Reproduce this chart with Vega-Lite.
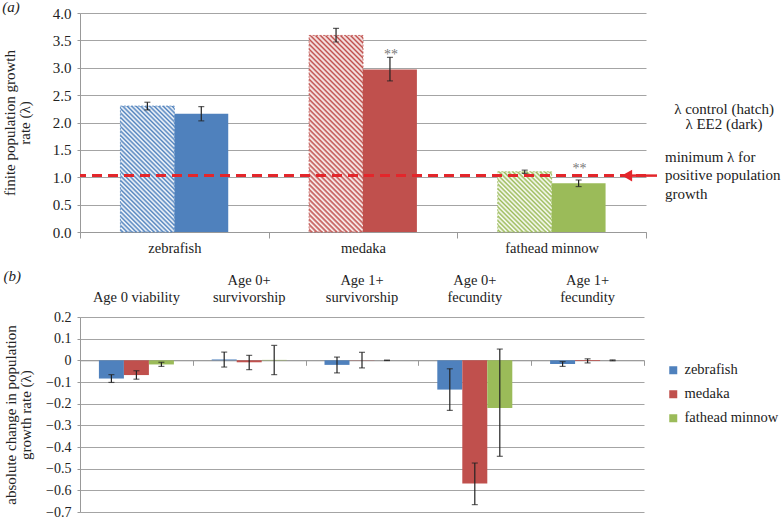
{
  "$schema": "https://vega.github.io/schema/vega-lite/v6.json",
  "background": "white",
  "padding": {"left": 2, "top": 0, "right": 0, "bottom": 0},
  "config": {
    "font": "Liberation Serif",
    "text": {"font": "Liberation Serif"},
    "view": {"stroke": null},
    "style": {"guide-label": {"font": "Liberation Serif"}, "guide-title": {"font": "Liberation Serif", "fontSize": 15}},
    "axis": {"labelFont": "Liberation Serif", "titleFont": "Liberation Serif", "labelFontSize": 15, "titleFontSize": 15, "labelColor": "#222", "titleColor": "#222", "titleFontWeight": "normal", "domainColor": "#999", "tickColor": "#999", "gridColor": "#a4a4a4", "titleLineHeight": 15},
    "title": {"font": "Liberation Serif", "fontSize": 15, "fontStyle": "italic", "fontWeight": "normal", "anchor": "start", "frame": "bounds", "color": "#222"},
    "legend": {"labelFont": "Liberation Serif", "labelFontSize": 14.5, "labelColor": "#222"}
  },
  "datasets": {
    "lambda": [
      {"species": "zebrafish", "treatment": "control", "lambda": 2.30, "lo": 2.23, "hi": 2.37, "sig": ""},
      {"species": "zebrafish", "treatment": "EE2", "lambda": 2.16, "lo": 2.03, "hi": 2.29, "sig": ""},
      {"species": "medaka", "treatment": "control", "lambda": 3.59, "lo": 3.47, "hi": 3.72, "sig": ""},
      {"species": "medaka", "treatment": "EE2", "lambda": 2.97, "lo": 2.76, "hi": 3.19, "sig": "**"},
      {"species": "fathead minnow", "treatment": "control", "lambda": 1.10, "lo": 1.07, "hi": 1.13, "sig": ""},
      {"species": "fathead minnow", "treatment": "EE2", "lambda": 0.89, "lo": 0.83, "hi": 0.95, "sig": "**"}
    ],
    "change": [
      {"measure": "Age 0 viability", "species": "zebrafish", "value": -0.084, "lo": -0.102, "hi": -0.066},
      {"measure": "Age 0 viability", "species": "medaka", "value": -0.068, "lo": -0.087, "hi": -0.048},
      {"measure": "Age 0 viability", "species": "fathead minnow", "value": -0.019, "lo": -0.028, "hi": -0.009},
      {"measure": "Age 0+ survivorship", "species": "zebrafish", "value": 0.004, "lo": -0.031, "hi": 0.038},
      {"measure": "Age 0+ survivorship", "species": "medaka", "value": -0.009, "lo": -0.043, "hi": 0.023},
      {"measure": "Age 0+ survivorship", "species": "fathead minnow", "value": 0.002, "lo": -0.066, "hi": 0.069},
      {"measure": "Age 1+ survivorship", "species": "zebrafish", "value": -0.021, "lo": -0.058, "hi": 0.015},
      {"measure": "Age 1+ survivorship", "species": "medaka", "value": 0.001, "lo": -0.035, "hi": 0.037},
      {"measure": "Age 1+ survivorship", "species": "fathead minnow", "value": 0.0, "lo": -0.001, "hi": 0.001},
      {"measure": "Age 0+ fecundity", "species": "zebrafish", "value": -0.135, "lo": -0.231, "hi": -0.039},
      {"measure": "Age 0+ fecundity", "species": "medaka", "value": -0.569, "lo": -0.666, "hi": -0.474},
      {"measure": "Age 0+ fecundity", "species": "fathead minnow", "value": -0.22, "lo": -0.443, "hi": 0.052},
      {"measure": "Age 1+ fecundity", "species": "zebrafish", "value": -0.017, "lo": -0.028, "hi": -0.006},
      {"measure": "Age 1+ fecundity", "species": "medaka", "value": -0.003, "lo": -0.012, "hi": 0.007},
      {"measure": "Age 1+ fecundity", "species": "fathead minnow", "value": 0.0, "lo": -0.002, "hi": 0.002}
    ]
  },
  "spacing": 14,
  "resolve": {"scale": {"color": "shared", "xOffset": "independent"}, "legend": {"color": "independent"}},
  "vconcat": [
    {
      "title": {"text": "(a)", "offset": -9},
      "width": 566,
      "height": 219,
      "resolve": {"axis": {"x": "independent", "y": "independent"}},
      "layer": [
        {
          "data": {"name": "lambda"},
          "transform": [{"filter": "datum.treatment == 'EE2'"}],
          "mark": {"type": "bar"},
          "encoding": {
            "x": {"field": "species", "type": "nominal", "sort": ["zebrafish", "medaka", "fathead minnow"], "scale": {"paddingInner": 0, "paddingOuter": 0}, "axis": {"title": null, "labelAngle": 0, "tickBand": "extent", "tickSize": 6, "labelPadding": 3, "labelFont": "Liberation Serif", "labelFontSize": 14.5, "grid": false}},
            "xOffset": {"field": "treatment", "type": "nominal", "sort": ["control", "EE2"], "scale": {"domain": ["control", "EE2"], "paddingInner": 0, "paddingOuter": 0.75}},
            "y": {"field": "lambda", "type": "quantitative", "scale": {"domain": [0, 4], "nice": false}, "axis": {"title": ["finite population growth", "rate (λ)"], "titleFont": "Liberation Serif", "titleFontSize": 15, "titleFontWeight": "normal", "titleLineHeight": 15, "values": [0, 0.5, 1, 1.5, 2, 2.5, 3, 3.5, 4], "format": ".1f", "tickSize": 3, "labelPadding": 6, "titlePadding": 20, "grid": true}},
            "color": {"field": "species", "type": "nominal", "scale": {"domain": ["zebrafish", "medaka", "fathead minnow"], "range": ["#4f81bd", "#c0504d", "#9bbb59"]}, "legend": null}
          }
        },
        {
          "data": {"name": "lambda"},
          "transform": [{"filter": "datum.treatment == 'control' && datum.species == 'zebrafish'"}],
          "mark": {"type": "bar", "stroke": "#4f81bd", "strokeWidth": 0.8, "strokeDash": [2, 1.5], "fill": {"gradient": "linear", "x1": 0, "y1": 1, "x2": 0.5167, "y2": -0.207, "stops": [
            {"offset": 0, "color": "#ffffff"}, {"offset": 0.0125, "color": "#4f81bd"}, {"offset": 0.025, "color": "#ffffff"}, {"offset": 0.0375, "color": "#4f81bd"},
            {"offset": 0.05, "color": "#ffffff"}, {"offset": 0.0625, "color": "#4f81bd"}, {"offset": 0.075, "color": "#ffffff"}, {"offset": 0.0875, "color": "#4f81bd"},
            {"offset": 0.1, "color": "#ffffff"}, {"offset": 0.1125, "color": "#4f81bd"}, {"offset": 0.125, "color": "#ffffff"}, {"offset": 0.1375, "color": "#4f81bd"},
            {"offset": 0.15, "color": "#ffffff"}, {"offset": 0.1625, "color": "#4f81bd"}, {"offset": 0.175, "color": "#ffffff"}, {"offset": 0.1875, "color": "#4f81bd"},
            {"offset": 0.2, "color": "#ffffff"}, {"offset": 0.2125, "color": "#4f81bd"}, {"offset": 0.225, "color": "#ffffff"}, {"offset": 0.2375, "color": "#4f81bd"},
            {"offset": 0.25, "color": "#ffffff"}, {"offset": 0.2625, "color": "#4f81bd"}, {"offset": 0.275, "color": "#ffffff"}, {"offset": 0.2875, "color": "#4f81bd"},
            {"offset": 0.3, "color": "#ffffff"}, {"offset": 0.3125, "color": "#4f81bd"}, {"offset": 0.325, "color": "#ffffff"}, {"offset": 0.3375, "color": "#4f81bd"},
            {"offset": 0.35, "color": "#ffffff"}, {"offset": 0.3625, "color": "#4f81bd"}, {"offset": 0.375, "color": "#ffffff"}, {"offset": 0.3875, "color": "#4f81bd"},
            {"offset": 0.4, "color": "#ffffff"}, {"offset": 0.4125, "color": "#4f81bd"}, {"offset": 0.425, "color": "#ffffff"}, {"offset": 0.4375, "color": "#4f81bd"},
            {"offset": 0.45, "color": "#ffffff"}, {"offset": 0.4625, "color": "#4f81bd"}, {"offset": 0.475, "color": "#ffffff"}, {"offset": 0.4875, "color": "#4f81bd"},
            {"offset": 0.5, "color": "#ffffff"}, {"offset": 0.5125, "color": "#4f81bd"}, {"offset": 0.525, "color": "#ffffff"}, {"offset": 0.5375, "color": "#4f81bd"},
            {"offset": 0.55, "color": "#ffffff"}, {"offset": 0.5625, "color": "#4f81bd"}, {"offset": 0.575, "color": "#ffffff"}, {"offset": 0.5875, "color": "#4f81bd"},
            {"offset": 0.6, "color": "#ffffff"}, {"offset": 0.6125, "color": "#4f81bd"}, {"offset": 0.625, "color": "#ffffff"}, {"offset": 0.6375, "color": "#4f81bd"},
            {"offset": 0.65, "color": "#ffffff"}, {"offset": 0.6625, "color": "#4f81bd"}, {"offset": 0.675, "color": "#ffffff"}, {"offset": 0.6875, "color": "#4f81bd"},
            {"offset": 0.7, "color": "#ffffff"}, {"offset": 0.7125, "color": "#4f81bd"}, {"offset": 0.725, "color": "#ffffff"}, {"offset": 0.7375, "color": "#4f81bd"},
            {"offset": 0.75, "color": "#ffffff"}, {"offset": 0.7625, "color": "#4f81bd"}, {"offset": 0.775, "color": "#ffffff"}, {"offset": 0.7875, "color": "#4f81bd"},
            {"offset": 0.8, "color": "#ffffff"}, {"offset": 0.8125, "color": "#4f81bd"}, {"offset": 0.825, "color": "#ffffff"}, {"offset": 0.8375, "color": "#4f81bd"},
            {"offset": 0.85, "color": "#ffffff"}, {"offset": 0.8625, "color": "#4f81bd"}, {"offset": 0.875, "color": "#ffffff"}, {"offset": 0.8875, "color": "#4f81bd"},
            {"offset": 0.9, "color": "#ffffff"}, {"offset": 0.9125, "color": "#4f81bd"}, {"offset": 0.925, "color": "#ffffff"}, {"offset": 0.9375, "color": "#4f81bd"},
            {"offset": 0.95, "color": "#ffffff"}, {"offset": 0.9625, "color": "#4f81bd"}, {"offset": 0.975, "color": "#ffffff"}, {"offset": 0.9875, "color": "#4f81bd"},
            {"offset": 1, "color": "#ffffff"}
          ]}},
          "encoding": {
            "x": {"field": "species", "type": "nominal", "sort": ["zebrafish", "medaka", "fathead minnow"], "axis": null},
            "xOffset": {"field": "treatment", "type": "nominal", "sort": ["control", "EE2"]},
            "y": {"field": "lambda", "type": "quantitative", "axis": null}
          }
        },
        {
          "data": {"name": "lambda"},
          "transform": [{"filter": "datum.treatment == 'control' && datum.species == 'medaka'"}],
          "mark": {"type": "bar", "stroke": "#c0504d", "strokeWidth": 0.8, "strokeDash": [2, 1.5], "fill": {"gradient": "linear", "x1": 0, "y1": 1, "x2": 0.3249, "y2": -0.1851, "stops": [
            {"offset": 0, "color": "#ffffff"}, {"offset": 0.01, "color": "#c0504d"}, {"offset": 0.02, "color": "#ffffff"}, {"offset": 0.03, "color": "#c0504d"},
            {"offset": 0.04, "color": "#ffffff"}, {"offset": 0.05, "color": "#c0504d"}, {"offset": 0.06, "color": "#ffffff"}, {"offset": 0.07, "color": "#c0504d"},
            {"offset": 0.08, "color": "#ffffff"}, {"offset": 0.09, "color": "#c0504d"}, {"offset": 0.1, "color": "#ffffff"}, {"offset": 0.11, "color": "#c0504d"},
            {"offset": 0.12, "color": "#ffffff"}, {"offset": 0.13, "color": "#c0504d"}, {"offset": 0.14, "color": "#ffffff"}, {"offset": 0.15, "color": "#c0504d"},
            {"offset": 0.16, "color": "#ffffff"}, {"offset": 0.17, "color": "#c0504d"}, {"offset": 0.18, "color": "#ffffff"}, {"offset": 0.19, "color": "#c0504d"},
            {"offset": 0.2, "color": "#ffffff"}, {"offset": 0.21, "color": "#c0504d"}, {"offset": 0.22, "color": "#ffffff"}, {"offset": 0.23, "color": "#c0504d"},
            {"offset": 0.24, "color": "#ffffff"}, {"offset": 0.25, "color": "#c0504d"}, {"offset": 0.26, "color": "#ffffff"}, {"offset": 0.27, "color": "#c0504d"},
            {"offset": 0.28, "color": "#ffffff"}, {"offset": 0.29, "color": "#c0504d"}, {"offset": 0.3, "color": "#ffffff"}, {"offset": 0.31, "color": "#c0504d"},
            {"offset": 0.32, "color": "#ffffff"}, {"offset": 0.33, "color": "#c0504d"}, {"offset": 0.34, "color": "#ffffff"}, {"offset": 0.35, "color": "#c0504d"},
            {"offset": 0.36, "color": "#ffffff"}, {"offset": 0.37, "color": "#c0504d"}, {"offset": 0.38, "color": "#ffffff"}, {"offset": 0.39, "color": "#c0504d"},
            {"offset": 0.4, "color": "#ffffff"}, {"offset": 0.41, "color": "#c0504d"}, {"offset": 0.42, "color": "#ffffff"}, {"offset": 0.43, "color": "#c0504d"},
            {"offset": 0.44, "color": "#ffffff"}, {"offset": 0.45, "color": "#c0504d"}, {"offset": 0.46, "color": "#ffffff"}, {"offset": 0.47, "color": "#c0504d"},
            {"offset": 0.48, "color": "#ffffff"}, {"offset": 0.49, "color": "#c0504d"}, {"offset": 0.5, "color": "#ffffff"}, {"offset": 0.51, "color": "#c0504d"},
            {"offset": 0.52, "color": "#ffffff"}, {"offset": 0.53, "color": "#c0504d"}, {"offset": 0.54, "color": "#ffffff"}, {"offset": 0.55, "color": "#c0504d"},
            {"offset": 0.56, "color": "#ffffff"}, {"offset": 0.57, "color": "#c0504d"}, {"offset": 0.58, "color": "#ffffff"}, {"offset": 0.59, "color": "#c0504d"},
            {"offset": 0.6, "color": "#ffffff"}, {"offset": 0.61, "color": "#c0504d"}, {"offset": 0.62, "color": "#ffffff"}, {"offset": 0.63, "color": "#c0504d"},
            {"offset": 0.64, "color": "#ffffff"}, {"offset": 0.65, "color": "#c0504d"}, {"offset": 0.66, "color": "#ffffff"}, {"offset": 0.67, "color": "#c0504d"},
            {"offset": 0.68, "color": "#ffffff"}, {"offset": 0.69, "color": "#c0504d"}, {"offset": 0.7, "color": "#ffffff"}, {"offset": 0.71, "color": "#c0504d"},
            {"offset": 0.72, "color": "#ffffff"}, {"offset": 0.73, "color": "#c0504d"}, {"offset": 0.74, "color": "#ffffff"}, {"offset": 0.75, "color": "#c0504d"},
            {"offset": 0.76, "color": "#ffffff"}, {"offset": 0.77, "color": "#c0504d"}, {"offset": 0.78, "color": "#ffffff"}, {"offset": 0.79, "color": "#c0504d"},
            {"offset": 0.8, "color": "#ffffff"}, {"offset": 0.81, "color": "#c0504d"}, {"offset": 0.82, "color": "#ffffff"}, {"offset": 0.83, "color": "#c0504d"},
            {"offset": 0.84, "color": "#ffffff"}, {"offset": 0.85, "color": "#c0504d"}, {"offset": 0.86, "color": "#ffffff"}, {"offset": 0.87, "color": "#c0504d"},
            {"offset": 0.88, "color": "#ffffff"}, {"offset": 0.89, "color": "#c0504d"}, {"offset": 0.9, "color": "#ffffff"}, {"offset": 0.91, "color": "#c0504d"},
            {"offset": 0.92, "color": "#ffffff"}, {"offset": 0.93, "color": "#c0504d"}, {"offset": 0.94, "color": "#ffffff"}, {"offset": 0.95, "color": "#c0504d"},
            {"offset": 0.96, "color": "#ffffff"}, {"offset": 0.97, "color": "#c0504d"}, {"offset": 0.98, "color": "#ffffff"}, {"offset": 0.99, "color": "#c0504d"},
            {"offset": 1, "color": "#ffffff"}
          ]}},
          "encoding": {
            "x": {"field": "species", "type": "nominal", "sort": ["zebrafish", "medaka", "fathead minnow"], "axis": null},
            "xOffset": {"field": "treatment", "type": "nominal", "sort": ["control", "EE2"]},
            "y": {"field": "lambda", "type": "quantitative", "axis": null}
          }
        },
        {
          "data": {"name": "lambda"},
          "transform": [{"filter": "datum.treatment == 'control' && datum.species == 'fathead minnow'"}],
          "mark": {"type": "bar", "stroke": "#9bbb59", "strokeWidth": 0.8, "strokeDash": [2, 1.5], "fill": {"gradient": "linear", "x1": 0, "y1": 1, "x2": 0.942, "y2": -0.0521, "stops": [
            {"offset": 0, "color": "#ffffff"}, {"offset": 0.02, "color": "#9bbb59"}, {"offset": 0.04, "color": "#ffffff"}, {"offset": 0.06, "color": "#9bbb59"},
            {"offset": 0.08, "color": "#ffffff"}, {"offset": 0.1, "color": "#9bbb59"}, {"offset": 0.12, "color": "#ffffff"}, {"offset": 0.14, "color": "#9bbb59"},
            {"offset": 0.16, "color": "#ffffff"}, {"offset": 0.18, "color": "#9bbb59"}, {"offset": 0.2, "color": "#ffffff"}, {"offset": 0.22, "color": "#9bbb59"},
            {"offset": 0.24, "color": "#ffffff"}, {"offset": 0.26, "color": "#9bbb59"}, {"offset": 0.28, "color": "#ffffff"}, {"offset": 0.3, "color": "#9bbb59"},
            {"offset": 0.32, "color": "#ffffff"}, {"offset": 0.34, "color": "#9bbb59"}, {"offset": 0.36, "color": "#ffffff"}, {"offset": 0.38, "color": "#9bbb59"},
            {"offset": 0.4, "color": "#ffffff"}, {"offset": 0.42, "color": "#9bbb59"}, {"offset": 0.44, "color": "#ffffff"}, {"offset": 0.46, "color": "#9bbb59"},
            {"offset": 0.48, "color": "#ffffff"}, {"offset": 0.5, "color": "#9bbb59"}, {"offset": 0.52, "color": "#ffffff"}, {"offset": 0.54, "color": "#9bbb59"},
            {"offset": 0.56, "color": "#ffffff"}, {"offset": 0.58, "color": "#9bbb59"}, {"offset": 0.6, "color": "#ffffff"}, {"offset": 0.62, "color": "#9bbb59"},
            {"offset": 0.64, "color": "#ffffff"}, {"offset": 0.66, "color": "#9bbb59"}, {"offset": 0.68, "color": "#ffffff"}, {"offset": 0.7, "color": "#9bbb59"},
            {"offset": 0.72, "color": "#ffffff"}, {"offset": 0.74, "color": "#9bbb59"}, {"offset": 0.76, "color": "#ffffff"}, {"offset": 0.78, "color": "#9bbb59"},
            {"offset": 0.8, "color": "#ffffff"}, {"offset": 0.82, "color": "#9bbb59"}, {"offset": 0.84, "color": "#ffffff"}, {"offset": 0.86, "color": "#9bbb59"},
            {"offset": 0.88, "color": "#ffffff"}, {"offset": 0.9, "color": "#9bbb59"}, {"offset": 0.92, "color": "#ffffff"}, {"offset": 0.94, "color": "#9bbb59"},
            {"offset": 0.96, "color": "#ffffff"}, {"offset": 0.98, "color": "#9bbb59"}, {"offset": 1, "color": "#ffffff"}
          ]}},
          "encoding": {
            "x": {"field": "species", "type": "nominal", "sort": ["zebrafish", "medaka", "fathead minnow"], "axis": null},
            "xOffset": {"field": "treatment", "type": "nominal", "sort": ["control", "EE2"]},
            "y": {"field": "lambda", "type": "quantitative", "axis": null}
          }
        },
        {
          "data": {"name": "lambda"},
          "mark": {"type": "rule", "color": "#222", "strokeWidth": 1.2},
          "encoding": {
            "x": {"field": "species", "type": "nominal", "sort": ["zebrafish", "medaka", "fathead minnow"], "axis": null},
            "xOffset": {"field": "treatment", "type": "nominal", "sort": ["control", "EE2"]},
            "y": {"field": "lo", "type": "quantitative", "axis": null},
            "y2": {"field": "hi"}
          }
        },
        {
          "data": {"name": "lambda"},
          "mark": {"type": "tick", "color": "#222", "size": 6, "thickness": 1.2},
          "encoding": {
            "x": {"field": "species", "type": "nominal", "sort": ["zebrafish", "medaka", "fathead minnow"], "axis": null},
            "xOffset": {"field": "treatment", "type": "nominal", "sort": ["control", "EE2"]},
            "y": {"field": "lo", "type": "quantitative", "axis": null}
          }
        },
        {
          "data": {"name": "lambda"},
          "mark": {"type": "tick", "color": "#222", "size": 6, "thickness": 1.2},
          "encoding": {
            "x": {"field": "species", "type": "nominal", "sort": ["zebrafish", "medaka", "fathead minnow"], "axis": null},
            "xOffset": {"field": "treatment", "type": "nominal", "sort": ["control", "EE2"]},
            "y": {"field": "hi", "type": "quantitative", "axis": null}
          }
        },
        {
          "data": {"name": "lambda"},
          "transform": [{"filter": "datum.sig != ''"}],
          "mark": {"type": "text", "font": "Liberation Serif", "color": "#777", "fontSize": 14, "baseline": "alphabetic", "dy": -10, "dx": 1},
          "encoding": {
            "x": {"field": "species", "type": "nominal", "sort": ["zebrafish", "medaka", "fathead minnow"], "axis": null},
            "xOffset": {"field": "treatment", "type": "nominal", "sort": ["control", "EE2"]},
            "y": {"field": "lambda", "type": "quantitative", "axis": null},
            "text": {"field": "sig"}
          }
        },
        {
          "data": {"values": [{"threshold": 1.03}]},
          "mark": {"type": "rule", "color": "#e3262b", "strokeWidth": 3, "strokeDash": [10, 6]},
          "encoding": {
            "y": {"field": "threshold", "type": "quantitative", "axis": null}
          }
        },
        {
          "data": {"values": [{"threshold": 1.03}]},
          "mark": {"type": "rule", "color": "#e3262b", "strokeWidth": 2.5, "xOffset": -20, "x2Offset": 11},
          "encoding": {
            "x": {"datum": "fathead minnow", "bandPosition": 1, "axis": null},
            "x2": {"datum": "fathead minnow", "bandPosition": 1},
            "y": {"field": "threshold", "type": "quantitative", "axis": null}
          }
        },
        {
          "data": {"values": [{"threshold": 1.03}]},
          "mark": {"type": "point", "shape": "triangle-left", "filled": true, "color": "#e3262b", "opacity": 1, "size": 140, "xOffset": -19},
          "encoding": {
            "x": {"datum": "fathead minnow", "bandPosition": 1, "axis": null},
            "y": {"field": "threshold", "type": "quantitative", "axis": null}
          }
        },
        {
          "data": {"values": [{"threshold": 1.03}]},
          "mark": {"type": "text", "font": "Liberation Serif", "text": ["minimum λ for", "positive population", "growth"], "align": "left", "baseline": "middle", "dx": 19, "dy": -19, "fontSize": 15, "lineHeight": 18.5, "color": "#222"},
          "encoding": {
            "x": {"datum": "fathead minnow", "bandPosition": 1, "axis": null},
            "y": {"field": "threshold", "type": "quantitative", "axis": null}
          }
        },
        {
          "data": {"values": [{"key": 2.1}]},
          "mark": {"type": "text", "font": "Liberation Serif", "text": ["λ control (hatch)", "λ EE2 (dark)"], "align": "center", "baseline": "middle", "dx": 78, "dy": -8, "fontSize": 15, "lineHeight": 15, "color": "#222"},
          "encoding": {
            "x": {"datum": "fathead minnow", "bandPosition": 1, "axis": null},
            "y": {"field": "key", "type": "quantitative", "axis": null}
          }
        }
      ]
    },
    {
      "title": {"text": "(b)", "offset": -12},
      "width": 564,
      "height": 195,
      "resolve": {"axis": {"x": "independent", "y": "independent"}},
      "layer": [
        {
          "data": {"name": "change"},
          "mark": {"type": "bar"},
          "encoding": {
            "x": {"field": "measure", "type": "nominal", "sort": ["Age 0 viability", "Age 0+ survivorship", "Age 1+ survivorship", "Age 0+ fecundity", "Age 1+ fecundity"], "scale": {"paddingInner": 0, "paddingOuter": 0}, "axis": {"orient": "top", "title": null, "labelAngle": 0, "ticks": false, "domain": false, "grid": false, "labelPadding": 30, "labelFont": "Liberation Serif", "labelFontSize": 14.5, "labelLineHeight": 17, "labelExpr": "indexof(datum.label, '+') > 0 ? [slice(datum.label, 0, indexof(datum.label, '+') + 1), slice(datum.label, indexof(datum.label, '+') + 2)] : ['', datum.label]"}},
            "xOffset": {"field": "species", "type": "nominal", "sort": ["zebrafish", "medaka", "fathead minnow"], "scale": {"domain": ["zebrafish", "medaka", "fathead minnow"], "paddingInner": 0, "paddingOuter": 0.756}},
            "y": {"field": "value", "type": "quantitative", "scale": {"domain": [-0.7, 0.2], "nice": false}, "axis": {"orient": "left", "title": ["absolute change in population", "growth rate  (λ)"], "titleFont": "Liberation Serif", "titleFontSize": 15, "titleFontWeight": "normal", "titleLineHeight": 15, "values": [-0.7, -0.6, -0.5, -0.4, -0.3, -0.2, -0.1, 0, 0.1, 0.2], "labelExpr": "datum.value == 0 ? '0' : format(datum.value, '.1f')", "labelFontSize": 14, "tickSize": 3, "labelPadding": 6, "titlePadding": 12, "grid": true}},
            "color": {"field": "species", "type": "nominal", "sort": ["zebrafish", "medaka", "fathead minnow"], "scale": {"domain": ["zebrafish", "medaka", "fathead minnow"], "range": ["#4f81bd", "#c0504d", "#9bbb59"]}, "legend": {"orient": "none", "legendX": 586, "legendY": 46, "title": null, "labelFont": "Liberation Serif", "labelFontSize": 14.5, "symbolType": "square", "symbolSize": 64, "symbolStrokeWidth": 0, "rowPadding": 9, "labelOffset": 4}}
          }
        },
        {
          "data": {"name": "change"},
          "mark": {"type": "rule", "color": "#222", "strokeWidth": 1.2},
          "encoding": {
            "x": {"field": "measure", "type": "nominal", "sort": ["Age 0 viability", "Age 0+ survivorship", "Age 1+ survivorship", "Age 0+ fecundity", "Age 1+ fecundity"], "axis": {"orient": "bottom", "offset": -151.7, "title": null, "labels": false, "ticks": true, "tickBand": "extent", "tickSize": 5, "domain": true, "grid": false}},
            "xOffset": {"field": "species", "type": "nominal", "sort": ["zebrafish", "medaka", "fathead minnow"]},
            "y": {"field": "lo", "type": "quantitative", "axis": null},
            "y2": {"field": "hi"}
          }
        },
        {
          "data": {"name": "change"},
          "mark": {"type": "tick", "color": "#222", "size": 6, "thickness": 1.2},
          "encoding": {
            "x": {"field": "measure", "type": "nominal", "sort": ["Age 0 viability", "Age 0+ survivorship", "Age 1+ survivorship", "Age 0+ fecundity", "Age 1+ fecundity"], "axis": null},
            "xOffset": {"field": "species", "type": "nominal", "sort": ["zebrafish", "medaka", "fathead minnow"]},
            "y": {"field": "lo", "type": "quantitative", "axis": null}
          }
        },
        {
          "data": {"name": "change"},
          "mark": {"type": "tick", "color": "#222", "size": 6, "thickness": 1.2},
          "encoding": {
            "x": {"field": "measure", "type": "nominal", "sort": ["Age 0 viability", "Age 0+ survivorship", "Age 1+ survivorship", "Age 0+ fecundity", "Age 1+ fecundity"], "axis": null},
            "xOffset": {"field": "species", "type": "nominal", "sort": ["zebrafish", "medaka", "fathead minnow"]},
            "y": {"field": "hi", "type": "quantitative", "axis": null}
          }
        }
      ]
    }
  ]
}
